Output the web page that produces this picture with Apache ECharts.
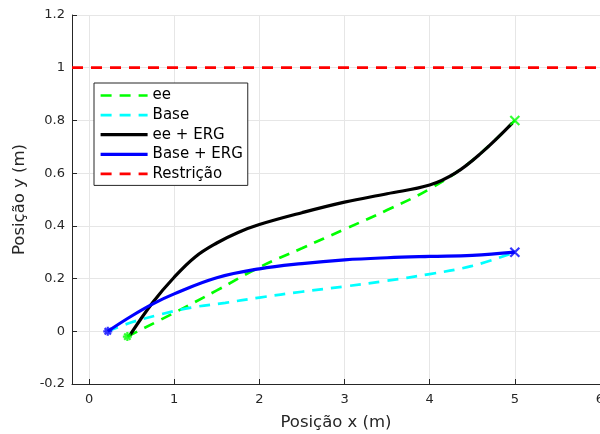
<!DOCTYPE html>
<html>
<head>
<meta charset="utf-8">
<title>Trajetórias</title>
<script src="https://cdn.jsdelivr.net/npm/echarts@6/dist/echarts.min.js"></script>
<style>
  html, body { margin: 0; padding: 0; background: #ffffff; }
  #chart { width: 600px; height: 434px; }
</style>
</head>
<body>
<div id="chart"></div>
<script>
// Tick values for the x axis (axis runs from -0.2 to 6)
const xTicks = [0, 1, 2, 3, 4, 5, 6];

// Trajectories, [x, y] in metres
const eePath = [
  [0.45, -0.02], [1, 0.07], [1.5, 0.155], [2, 0.243],
  [2.5, 0.315], [3, 0.387], [3.5, 0.46], [4, 0.54],
  [4.5, 0.648], [5, 0.8]
];
const basePath = [
  [0.22, 0], [0.5, 0.034], [0.85, 0.065], [1.2, 0.09], [1.6, 0.108],
  [2, 0.128], [2.5, 0.15], [3, 0.17], [3.5, 0.192], [4, 0.217],
  [4.5, 0.248], [5, 0.3]
];
const eeErgPath = [
  [0.48, -0.015], [0.75, 0.11], [1, 0.205], [1.25, 0.283],
  [1.5, 0.335], [1.75, 0.375], [2, 0.405], [2.5, 0.45], [3, 0.49],
  [3.5, 0.522], [4, 0.555], [4.3, 0.6], [4.6, 0.675], [4.97, 0.79]
];
const baseErgPath = [
  [0.22, 0], [0.5, 0.058], [0.75, 0.104], [1, 0.142], [1.5, 0.203],
  [2, 0.237], [2.5, 0.257], [3, 0.271], [3.5, 0.279], [4, 0.284],
  [4.5, 0.288], [5, 0.3]
];
// Constraint on y
const yLimit = 1;
const limitLine = [[-0.2, yLimit], [6, yLimit]];

const FONT = 'DejaVu Sans';
const AXIS_COLOR = '#262626';
const GRID_COLOR = '#e6e6e6';
const DASH = [11, 8];

// Marker shapes: asterisk for start points, cross for end points
const STAR = 'path://M0,5L10,5M5,0L5,10M1.5,1.5L8.5,8.5M8.5,1.5L1.5,8.5';
const CROSS = 'path://M0,0L10,10M10,0L0,10';

function markerSeries(point, shape, color) {
  return {
    type: 'scatter',
    data: [point],
    symbol: shape,
    symbolSize: 9,
    itemStyle: { color: 'transparent', borderColor: color, borderWidth: 2.2 },
    silent: true,
    z: 10
  };
}

function pathSeries(name, data, color, width, dashed) {
  return {
    name: name,
    type: 'line',
    data: data,
    symbol: 'none',
    showSymbol: false,
    smooth: 0.4,
    lineStyle: { color: color, width: width, type: dashed ? DASH : 'solid' },
    itemStyle: { color: color },
    silent: true,
    z: 3
  };
}

const chart = echarts.init(document.getElementById('chart'), null, { renderer: 'canvas' });

chart.setOption({
  animation: false,
  backgroundColor: '#ffffff',
  grid: { left: 72, right: 0, top: 15, bottom: 50, containLabel: false, outerBoundsMode: 'none' },
  legend: {
    orient: 'vertical',
    left: 94,
    top: 83,
    itemWidth: 47,
    itemHeight: 14,
    itemGap: 4.6,
    padding: [5, 5, 4, 5],
    borderColor: AXIS_COLOR,
    borderWidth: 1,
    borderRadius: 0,
    backgroundColor: '#ffffff',
    selectedMode: false,
    lineStyle: { width: 'inherit' },
    itemStyle: { color: 'transparent', borderColor: 'transparent', borderWidth: 0, opacity: 0 },
    textStyle: { fontFamily: FONT, fontSize: 15, color: '#000000' },
    data: ['ee', 'Base', 'ee + ERG', 'Base + ERG', 'Restrição']
  },
  xAxis: {
    type: 'value',
    min: -0.2,
    max: 6,
    name: 'Posição x (m)',
    nameLocation: 'middle',
    nameGap: 30,
    nameTextStyle: { fontFamily: FONT, fontSize: 16.5, color: AXIS_COLOR },
    axisLine: { onZero: false, lineStyle: { color: AXIS_COLOR, width: 1 } },
    axisTick: { inside: true, length: 5, customValues: xTicks, lineStyle: { color: AXIS_COLOR } },
    axisLabel: { customValues: xTicks, margin: 9, fontFamily: FONT, fontSize: 13, color: AXIS_COLOR },
    splitLine: { show: true, lineStyle: { color: GRID_COLOR, width: 1 } }
  },
  yAxis: {
    type: 'value',
    min: -0.2,
    max: 1.2,
    interval: 0.2,
    name: 'Posição y (m)',
    nameLocation: 'middle',
    nameGap: 44,
    nameTextStyle: { fontFamily: FONT, fontSize: 16.5, color: AXIS_COLOR },
    axisLine: { show: true, onZero: false, lineStyle: { color: AXIS_COLOR, width: 1 } },
    axisTick: { show: true, inside: true, length: 5, lineStyle: { color: AXIS_COLOR } },
    axisLabel: { margin: 7, fontFamily: FONT, fontSize: 13, color: AXIS_COLOR },
    splitLine: { show: true, lineStyle: { color: GRID_COLOR, width: 1 } }
  },
  series: [
    pathSeries('ee', eePath, '#00ff00', 2.7, true),
    pathSeries('Base', basePath, '#00ffff', 2.7, true),
    pathSeries('ee + ERG', eeErgPath, '#000000', 3.2, false),
    pathSeries('Base + ERG', baseErgPath, '#0000ff', 3.2, false),
    {
      name: 'Restrição',
      type: 'line',
      data: limitLine,
      symbol: 'none',
      showSymbol: false,
      lineStyle: { color: '#ff0000', width: 2.7, type: DASH },
      itemStyle: { color: '#ff0000' },
      silent: true,
      z: 3
    },
    markerSeries(eePath[0], STAR, '#00ff00'),
    markerSeries(eePath[eePath.length - 1], CROSS, '#00ff00'),
    markerSeries(baseErgPath[0], STAR, '#0000ff'),
    markerSeries(baseErgPath[baseErgPath.length - 1], CROSS, '#0000ff')
  ]
});
</script>
</body>
</html>
